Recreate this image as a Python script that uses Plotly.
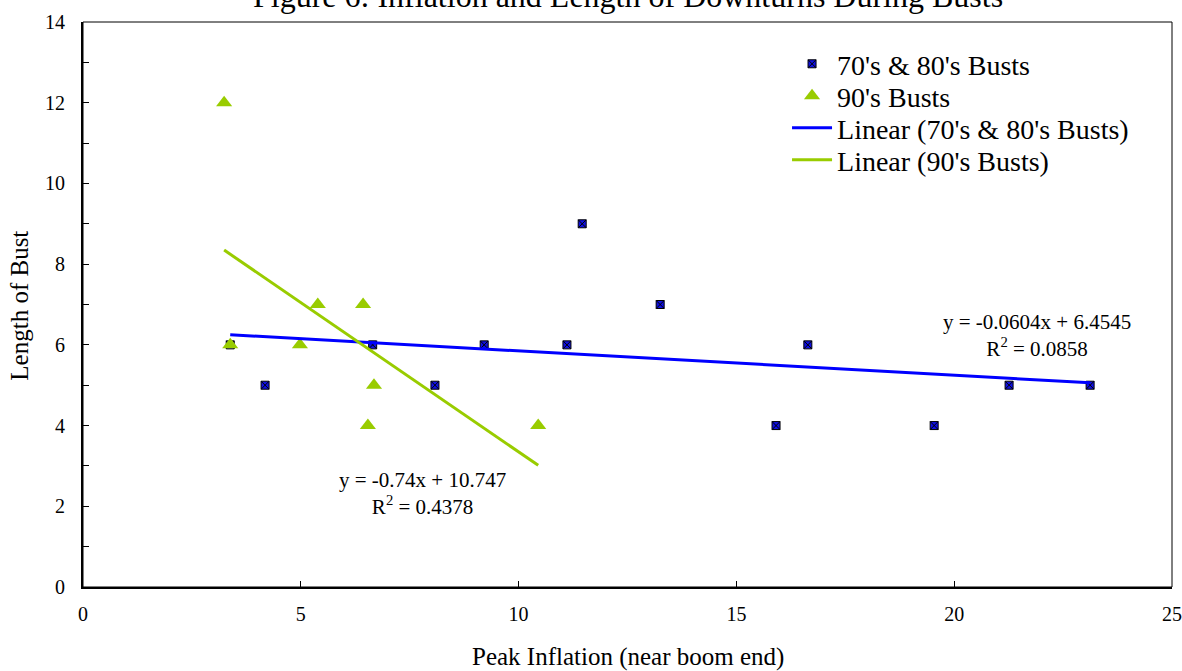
import plotly.graph_objects as go

# --- data ---
busts_7080_x = [3.38, 4.18, 6.65, 8.08, 9.21, 11.11, 11.46, 13.25, 15.91, 16.64, 19.54, 21.26, 23.12]
busts_7080_y = [6, 5, 6, 5, 6, 6, 9, 7, 4, 6, 4, 5, 5]
busts_90_x = [3.24, 3.38, 4.98, 5.39, 6.43, 6.54, 6.68, 10.45]
busts_90_y = [12, 6, 6, 7, 7, 4, 5, 4]
trend_7080 = [-0.0604, 6.4545]   # slope, intercept
trend_90 = [-0.74, 10.747]
r2_7080 = 0.0858
r2_90 = 0.4378
x_ticks = [0, 5, 10, 15, 20, 25]
y_ticks = [0, 2, 4, 6, 8, 10, 12, 14]

FONT = "Liberation Serif, Times New Roman, serif"
BLUE = "#0000FF"
GREEN = "#99CC00"

fig = go.Figure()

fig.add_trace(go.Scatter(
    x=busts_7080_x, y=busts_7080_y, mode="markers", name="70's & 80's Busts",
    marker=dict(symbol="square-x", size=8, color="#1010E0", line=dict(color="black", width=1)),
    legend="legend",
))
fig.add_trace(go.Scatter(
    x=busts_90_x, y=busts_90_y, mode="markers", name="90's Busts",
    marker=dict(symbol="triangle-up", size=14, color=GREEN, line=dict(width=0)),
    legend="legend2",
))

def trend(xs, coef):
    x0, x1 = min(xs), max(xs)
    return [x0, x1], [coef[0] * x0 + coef[1], coef[0] * x1 + coef[1]]

tx, ty = trend(busts_7080_x, trend_7080)
fig.add_trace(go.Scatter(x=tx, y=ty, mode="lines", name="Linear (70's & 80's Busts)",
                         line=dict(color=BLUE, width=3), legend="legend3"))
tx, ty = trend(busts_90_x, trend_90)
fig.add_trace(go.Scatter(x=tx, y=ty, mode="lines", name="Linear (90's Busts)",
                         line=dict(color=GREEN, width=3), legend="legend4"))

# equation labels
fig.add_annotation(x=21.9, y=6.22, xref="x", yref="y", showarrow=False,
                   text=f"y = {trend_7080[0]}x + {trend_7080[1]}<br>R<sup>2</sup> = {r2_7080}",
                   font=dict(family=FONT, size=21, color="black"), align="center")
fig.add_annotation(x=7.8, y=2.31, xref="x", yref="y", showarrow=False,
                   text=f"y = {trend_90[0]}x + {trend_90[1]}<br>R<sup>2</sup> = {r2_90}",
                   font=dict(family=FONT, size=21, color="black"), align="center")

# title (partially cut off at top as in reference)
fig.add_annotation(x=0.5, y=1.0105, xref="paper", yref="paper", showarrow=False,
                   xanchor="center", yanchor="bottom",
                   text="Figure 6: Inflation and Length of Downturns During Busts",
                   font=dict(family=FONT, size=32, color="black"))

# axis titles
fig.add_annotation(x=0.5, y=-0.124, xref="paper", yref="paper", showarrow=False,
                   xanchor="center", yanchor="middle", text="Peak Inflation (near boom end)",
                   font=dict(family=FONT, size=25, color="black"))
fig.add_annotation(x=-0.0578, y=0.498, xref="paper", yref="paper", showarrow=False,
                   xanchor="center", yanchor="middle", text="Length of Bust", textangle=-90,
                   font=dict(family=FONT, size=25, color="black"))

# thin border around plot area
fig.add_shape(type="rect", xref="paper", yref="paper", x0=0, y0=0, x1=1, y1=1,
              line=dict(color="black", width=1))

leg = dict(x=0.6465, xanchor="left", yanchor="middle",
           font=dict(family=FONT, size=28, color="black"),
           bgcolor="rgba(0,0,0,0)", itemwidth=40)

fig.update_layout(
    width=1182, height=671,
    margin=dict(l=83, r=10, t=22, b=84),
    paper_bgcolor="white", plot_bgcolor="white",
    font=dict(family=FONT, size=20, color="black"),
    showlegend=True,
    legend=dict(leg, y=0.9255),
    legend2=dict(leg, y=0.869),
    legend3=dict(leg, y=0.8123),
    legend4=dict(leg, y=0.7557),
    xaxis=dict(range=[0, 25], tickvals=x_ticks, ticks="inside", ticklen=6,
               tickwidth=1, tickcolor="black", showline=True, linecolor="black", linewidth=2,
               showgrid=False, zeroline=False, ticklabelstandoff=8, automargin=False,
               tickfont=dict(family=FONT, size=20)),
    yaxis=dict(range=[0, 14], tickvals=y_ticks, ticks="inside", ticklen=6,
               tickwidth=1, tickcolor="black", showline=True, linecolor="black", linewidth=2,
               showgrid=False, zeroline=False, ticklabelstandoff=12, automargin=False,
               tickfont=dict(family=FONT, size=20),
               minor=dict(tickvals=[1, 3, 5, 7, 9, 11, 13], ticks="inside", ticklen=6,
                          tickcolor="black", tickwidth=1, showgrid=False)),
)

fig.write_html("out.html", config={"displayModeBar": False},
               post_script="document.body.style.margin='0px';")
